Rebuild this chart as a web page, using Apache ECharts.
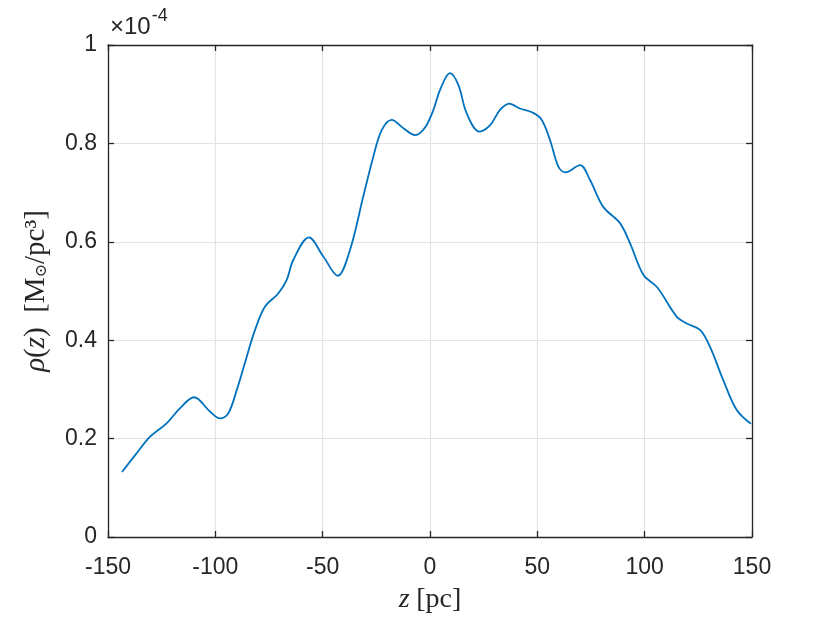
<!DOCTYPE html>
<html>
<head>
<meta charset="utf-8">
<script src="https://cdn.jsdelivr.net/npm/echarts@6/dist/echarts.min.js"></script>
<style>
  html, body { margin: 0; padding: 0; background: #fff; }
  #chart { width: 830px; height: 623px; }
</style>
</head>
<body>
<div id="chart"></div>
<script>
// z [pc] and rho(z) in units of 1e-4 Msun/pc^3
const zValues = [
  -143.5, -136.7, -130.4, -122.7, -116.4, -109.9, -102.5, -97.8, -94.0, -90.0,
  -85.4, -81.5, -76.9, -70.7, -66.8, -63.7, -56.4, -49.7, -43.0, -37.3,
  -31.1, -26.4, -22.5, -17.8, -12.4, -7.0, -4.7, -1.6, 1.6, 4.7,
  9.3, 13.2, 17.1, 23.0, 28.0, 32.6, 36.9, 41.9, 48.1, 52.0,
  55.9, 59.8, 63.2, 69.9, 74.5, 80.7, 88.5, 93.2, 99.4, 105.9,
  114.9, 119.6, 125.8, 130.4, 136.6, 142.9, 149.5
];
const rhoValues = [
  0.132, 0.170, 0.204, 0.231, 0.262, 0.284, 0.255, 0.241, 0.251, 0.299,
  0.366, 0.421, 0.468, 0.495, 0.522, 0.563, 0.609, 0.570, 0.531, 0.583,
  0.692, 0.773, 0.827, 0.848, 0.831, 0.817, 0.821, 0.837, 0.868, 0.909,
  0.943, 0.919, 0.861, 0.824, 0.837, 0.868, 0.881, 0.871, 0.862, 0.848,
  0.807, 0.753, 0.741, 0.756, 0.726, 0.671, 0.638, 0.597, 0.533, 0.507,
  0.448, 0.434, 0.421, 0.387, 0.319, 0.258, 0.230
];

const axisColor = '#262626';
const gridColor = '#e3e3e3';
const sans = '"Liberation Sans", Arial, sans-serif';
const serif = '"Liberation Serif", "DejaVu Serif", serif';

const chart = echarts.init(document.getElementById('chart'));

// 主坐标轴 + 镜像轴（画出 MATLAB 风格的边框刻度）
const baseAxis = {
  axisLine: { show: true, onZero: false, lineStyle: { color: axisColor, width: 1.3 } },
  axisTick: { show: true, inside: true, length: 6, lineStyle: { color: axisColor, width: 1.3 } },
};

chart.setOption({
  animation: false,
  grid: { left: 108, right: 78, top: 45, bottom: 86, outerBoundsMode: 'none' },
  xAxis: [
    {
      ...baseAxis,
      type: 'value', min: -150, max: 150, interval: 50,
      axisLabel: { color: axisColor, fontSize: 23, fontFamily: sans, margin: 19 },
      splitLine: { show: true, lineStyle: { color: gridColor, width: 1.2 } },
      name: '{i|z}  {n|[pc]}',
      nameLocation: 'middle', nameGap: 49,
      nameTextStyle: {
        rich: {
          i: { fontFamily: serif, fontStyle: 'italic', fontSize: 28, color: axisColor },
          n: { fontFamily: serif, fontSize: 28, color: axisColor },
        }
      },
    },
    {
      ...baseAxis,
      type: 'value', min: -150, max: 150, interval: 50, position: 'top',
      axisLabel: { show: false }, splitLine: { show: false },
    }
  ],
  yAxis: [
    {
      ...baseAxis,
      type: 'value', min: 0, max: 1, interval: 0.2,
      axisLabel: { color: axisColor, fontSize: 23, fontFamily: sans, margin: 11 },
      splitLine: { show: true, lineStyle: { color: gridColor, width: 1.2 } },
      name: '{i|ρ}{n|(}{i|z}{n|)  [M}{s|⊙}{n|/pc³]}',
      nameLocation: 'middle', nameGap: 57, nameRotate: 90,
      nameTextStyle: {
        rich: {
          i: { fontFamily: serif, fontStyle: 'italic', fontSize: 29, color: axisColor },
          n: { fontFamily: serif, fontSize: 29, color: axisColor },
          s: { fontFamily: '"DejaVu Serif", serif', fontSize: 16, color: axisColor, padding: [10, 0, 0, 0] },
        }
      },
    },
    {
      ...baseAxis,
      type: 'value', min: 0, max: 1, interval: 0.2, position: 'right',
      axisLabel: { show: false }, splitLine: { show: false },
    }
  ],
  graphic: [{
    type: 'text', left: 110, top: 7,
    style: {
      text: '{a|×10}{b|-4}',
      rich: {
        a: { fontFamily: sans, fontSize: 24, fill: axisColor, padding: [11, 0, 0, 0] },
        b: { fontFamily: sans, fontSize: 18, fill: axisColor, padding: [0, 0, 12, 1] },
      }
    }
  }],
  series: [{
    type: 'line',
    data: zValues.map((z, i) => [z, rhoValues[i]]),
    smooth: 0.35,
    showSymbol: false,
    lineStyle: { color: '#0072BD', width: 1.8 },
    itemStyle: { color: '#0072BD' },
  }]
});
</script>
</body>
</html>
